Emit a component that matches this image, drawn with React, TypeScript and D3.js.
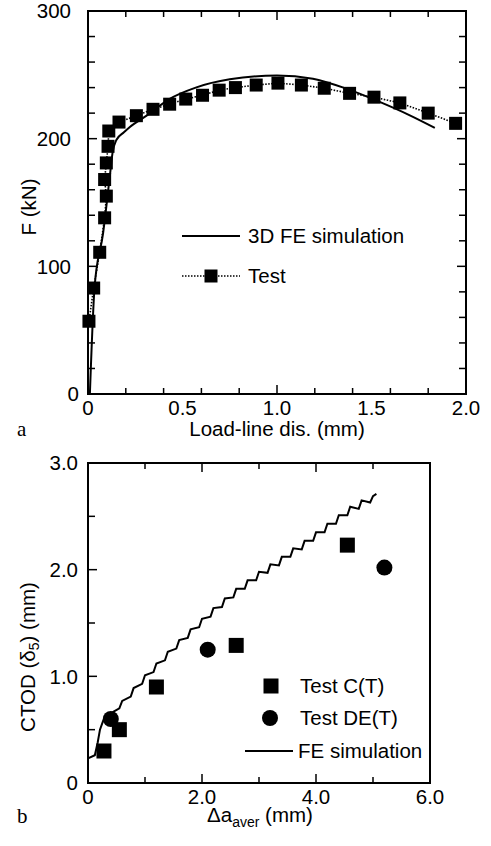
import React from "react";
import * as d3 from "d3";

// ---------- Panel a: load vs load-line displacement ----------
const testDisp = [0.005, 0.03, 0.062, 0.088, 0.097, 0.088, 0.097, 0.106, 0.11, 0.164, 0.256, 0.344, 0.432, 0.517, 0.606, 0.694, 0.78, 0.89, 1.005, 1.129, 1.25, 1.384, 1.513, 1.65, 1.8, 1.945];
const testForce = [57, 83, 111, 138, 155, 168, 181, 194, 206, 213, 218, 223, 227, 231, 234, 238, 240, 242, 243.5, 242, 239.5, 235.5, 232.5, 228, 220, 212];

const feDisp = [0.01, 0.035, 0.08, 0.115, 0.13, 0.15, 0.19, 0.22, 0.31, 0.43, 0.57, 0.75, 1.0, 1.19, 1.37, 1.54, 1.7, 1.835];
const feForce = [0, 84, 126, 170, 189, 199, 205, 209, 218, 231, 240, 246.5, 249.5, 247, 239, 229, 218.5, 208.5];

// ---------- Panel b: CTOD vs crack growth ----------
const ctDa = [0.28, 0.55, 1.2, 2.6, 4.55];
const ctCtod = [0.3, 0.5, 0.9, 1.29, 2.23];

const detDa = [0.4, 2.1, 5.2];
const detCtod = [0.6, 1.25, 2.02];

const simDa = [0.0, 0.12, 0.17, 0.21, 0.27, 0.35, 0.45,
  0.55, 0.6, 0.75, 0.8, 0.95, 1.0, 1.15, 1.2, 1.35, 1.4, 1.55, 1.6, 1.75, 1.8, 1.95, 2.0,
  2.15, 2.2, 2.35, 2.4, 2.55, 2.6, 2.75, 2.8, 2.95, 3.0, 3.15, 3.2, 3.35, 3.4, 3.55, 3.6,
  3.75, 3.8, 3.95, 4.0, 4.15, 4.2, 4.35, 4.4, 4.55, 4.6, 4.75, 4.8, 4.95, 5.0, 5.06];
const simCtod = [0.23, 0.26, 0.38, 0.5, 0.59, 0.63, 0.67,
  0.7, 0.77, 0.81, 0.89, 0.93, 1.01, 1.04, 1.12, 1.15, 1.23, 1.26, 1.34, 1.36, 1.44, 1.46, 1.54,
  1.56, 1.64, 1.65, 1.73, 1.74, 1.82, 1.82, 1.9, 1.9, 1.98, 1.97, 2.05, 2.04, 2.12, 2.12, 2.2,
  2.19, 2.27, 2.27, 2.35, 2.35, 2.43, 2.43, 2.51, 2.51, 2.59, 2.57, 2.65, 2.63, 2.69, 2.71];

const FONT = "'Liberation Sans', Arial, Helvetica, sans-serif";
const SERIF = "'Liberation Serif', 'Times New Roman', serif";

export default function App() {
  // panel a scales
  const xA = d3.scaleLinear().domain([0, 2]).range([88, 466]);
  const yA = d3.scaleLinear().domain([0, 300]).range([394, 11]);
  // panel b scales
  const xB = d3.scaleLinear().domain([0, 6]).range([88, 430]);
  const yB = d3.scaleLinear().domain([0, 3]).range([783, 463]);

  const lineA = d3.line<number>().x((_, i) => xA(feDisp[i])).y((_, i) => yA(feForce[i])).curve(d3.curveMonotoneX);
  const testLine = d3.line<number>().x((_, i) => xA(testDisp[i])).y((_, i) => yA(testForce[i]));
  const lineB = d3.line<number>().x((_, i) => xB(simDa[i])).y((_, i) => yB(simCtod[i]));

  const fmt1 = (v: number) => (v === 0 ? "0" : d3.format(".1f")(v));
  const fmtInt = (v: number) => d3.format("d")(v);

  const isMult = (v: number, m: number) => Math.abs(v / m - Math.round(v / m)) < 1e-6;

  const sqA = 13;
  const sqB = 15;
  const FS = 20.5;

  return (
    <svg width={491} height={846} style={{ position: "absolute", left: 0, top: 0, background: "#fff" }} fontFamily={FONT}>
      <rect x={0} y={0} width={491} height={846} fill="#fff" />

      {/* ================= Panel a ================= */}
      <g>
        {xA.ticks(8).map((t) => {
          const len = isMult(t, 0.5) ? 9 : 6;
          return (
            <g key={"xa" + t}>
              <line x1={xA(t)} x2={xA(t)} y1={yA(0)} y2={yA(0) - len} stroke="#000" strokeWidth={1.5} />
              <line x1={xA(t)} x2={xA(t)} y1={yA(300)} y2={yA(300) + len} stroke="#000" strokeWidth={1.5} />
            </g>
          );
        })}
        {yA.ticks(15).map((t) => {
          const len = isMult(t, 100) ? 9 : 7;
          return (
            <g key={"ya" + t}>
              <line x1={xA(0)} x2={xA(0) + len} y1={yA(t)} y2={yA(t)} stroke="#000" strokeWidth={1.5} />
              <line x1={xA(2)} x2={xA(2) - len} y1={yA(t)} y2={yA(t)} stroke="#000" strokeWidth={1.5} />
            </g>
          );
        })}
        <rect x={xA(0)} y={yA(300)} width={xA(2) - xA(0)} height={yA(0) - yA(300)} fill="none" stroke="#000" strokeWidth={2} />

        {xA.ticks(4).map((t) => (
          <text key={"xla" + t} x={xA(t)} y={yA(0) + 21} fontSize={FS} textAnchor="middle">{fmt1(t)}</text>
        ))}
        {yA.ticks(3).map((t) => (
          <text key={"yla" + t} x={t === 0 ? 79 : 71} y={yA(t)} dy="0.35em" fontSize={FS} textAnchor="end">{fmtInt(t)}</text>
        ))}

        <text x={277} y={436} fontSize={FS} textAnchor="middle">Load-line dis. (mm)</text>
        <text transform="translate(36,207) rotate(-90)" fontSize={FS} textAnchor="middle">F (kN)</text>
        <text x={17} y={436} fontSize={21} fontFamily={SERIF}>a</text>

        <path d={testLine(testDisp) || ""} fill="none" stroke="#000" strokeWidth={1.6} strokeDasharray="1.5,1.5" />
        <path d={lineA(feDisp) || ""} fill="none" stroke="#000" strokeWidth={2} />
        {testDisp.map((d, i) => (
          <rect key={"tsq" + i} x={xA(d) - sqA / 2} y={yA(testForce[i]) - sqA / 2} width={sqA} height={sqA} fill="#000" />
        ))}

        <line x1={182} x2={240} y1={236} y2={236} stroke="#000" strokeWidth={2} />
        <text x={248} y={243} fontSize={FS}>3D FE simulation</text>
        <line x1={182} x2={240} y1={276} y2={276} stroke="#000" strokeWidth={1.6} strokeDasharray="1.5,1.5" />
        <rect x={211 - sqA / 2} y={276 - sqA / 2} width={sqA} height={sqA} fill="#000" />
        <text x={248} y={283} fontSize={FS}>Test</text>
      </g>

      {/* ================= Panel b ================= */}
      <g>
        {xB.ticks(6).map((t) => {
          const len = isMult(t, 2) ? 9 : 6;
          return (
            <g key={"xb" + t}>
              <line x1={xB(t)} x2={xB(t)} y1={yB(0)} y2={yB(0) - len} stroke="#000" strokeWidth={1.5} />
              <line x1={xB(t)} x2={xB(t)} y1={yB(3)} y2={yB(3) + len} stroke="#000" strokeWidth={1.5} />
            </g>
          );
        })}
        {yB.ticks(6).map((t) => {
          const len = isMult(t, 1) ? 9 : 7;
          return (
            <line key={"yb" + t} x1={xB(0)} x2={xB(0) + len} y1={yB(t)} y2={yB(t)} stroke="#000" strokeWidth={1.5} />
          );
        })}
        <rect x={xB(0)} y={yB(3)} width={xB(6) - xB(0)} height={yB(0) - yB(3)} fill="none" stroke="#000" strokeWidth={2} />

        {xB.ticks(3).map((t) => (
          <text key={"xlb" + t} x={xB(t)} y={yB(0) + 21} fontSize={FS} textAnchor="middle">{fmt1(t)}</text>
        ))}
        {yB.ticks(3).map((t) => (
          <text key={"ylb" + t} x={78} y={yB(t)} dy="0.35em" fontSize={FS} textAnchor="end">{fmt1(t)}</text>
        ))}

        <text x={260} y={822} fontSize={FS} textAnchor="middle">
          Δa<tspan fontSize={14} dy={5}>aver</tspan><tspan dy={-5}> (mm)</tspan>
        </text>
        <text transform="translate(35,657) rotate(-90)" fontSize={FS} textAnchor="middle">
          CTOD (δ<tspan fontSize={14} dy={4}>5</tspan><tspan dy={-4}>) (mm)</tspan>
        </text>
        <text x={17} y={823} fontSize={21} fontFamily={SERIF}>b</text>

        <path d={lineB(simDa) || ""} fill="none" stroke="#000" strokeWidth={2} />
        {ctDa.map((d, i) => (
          <rect key={"ct" + i} x={xB(d) - sqB / 2} y={yB(ctCtod[i]) - sqB / 2} width={sqB} height={sqB} fill="#000" />
        ))}
        {detDa.map((d, i) => (
          <circle key={"de" + i} cx={xB(d)} cy={yB(detCtod[i])} r={8} fill="#000" />
        ))}

        <rect x={271 - sqB / 2} y={686 - sqB / 2} width={sqB} height={sqB} fill="#000" />
        <text x={300} y={693} fontSize={FS}>Test C(T)</text>
        <circle cx={270} cy={718} r={8} fill="#000" />
        <text x={300} y={725} fontSize={FS}>Test DE(T)</text>
        <line x1={245} x2={293} y1={751} y2={751} stroke="#000" strokeWidth={1.8} />
        <text x={298} y={758} fontSize={FS}>FE simulation</text>
      </g>
    </svg>
  );
}
